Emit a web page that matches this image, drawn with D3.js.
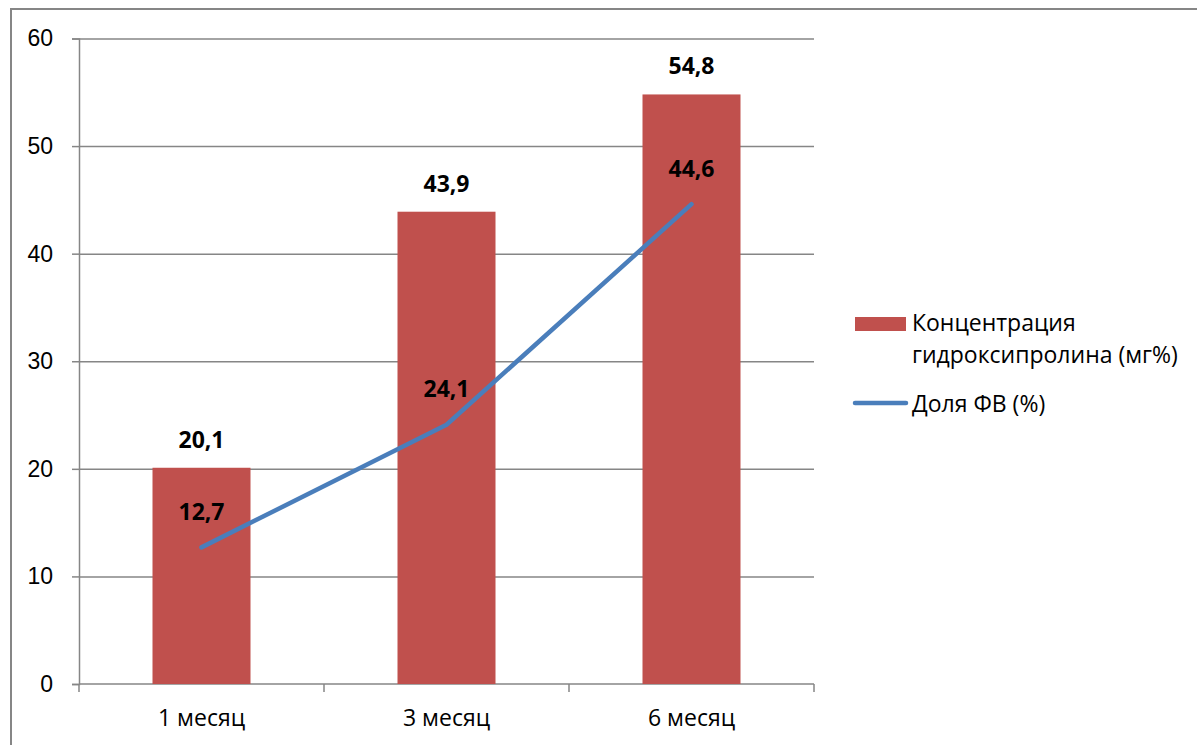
<!DOCTYPE html>
<html>
<head>
<meta charset="utf-8">
<script src="https://cdn.jsdelivr.net/npm/d3@7"></script>
<style>
  html, body { margin: 0; padding: 0; background: #fff; }
  svg { display: block; font-family: "Open Sans", "Noto Sans", sans-serif; }
</style>
</head>
<body>
<svg id="chart" width="1197" height="745"></svg>
<script>
// Data
const categories = ["1 месяц", "3 месяц", "6 месяц"];
const hydroxyproline = [20.1, 43.9, 54.8];   // Концентрация гидроксипролина (мг%)
const fvShare = [12.7, 24.1, 44.6];          // Доля ФВ (%)
const yTicks = [0, 10, 20, 30, 40, 50, 60];
const seriesNames = ["Концентрация", "гидроксипролина (мг%)", "Доля ФВ (%)"];

const svg = d3.select("#chart");
const plot = { left: 79, right: 814, top: 38.5, bottom: 684 };
const barColor = "#c0504d";
const lineColor = "#4a7ebb";
const axisColor = "#868686";
const textSize = 23;
const labelSize = 23;

// Outer chart frame
svg.append("rect")
  .attr("x", 11).attr("y", 9)
  .attr("width", 1300).attr("height", 900)
  .attr("fill", "none").attr("stroke", axisColor).attr("stroke-width", 2);

const x = d3.scaleBand().domain(categories)
  .range([plot.left, plot.right]).paddingInner(0.6).paddingOuter(0.3);
const xOuter = d3.scaleBand().domain(categories).range([plot.left, plot.right]);
const y = d3.scaleLinear().domain([0, 60]).range([plot.bottom, plot.top]);

// Gridlines + left axis
const yAxis = d3.axisLeft(y).tickValues(yTicks).tickSize(7).tickPadding(19)
  .tickFormat(d3.format("d"));
const gy = svg.append("g").attr("transform", `translate(${plot.left},0)`).call(yAxis);
gy.select(".domain").attr("stroke", axisColor).attr("stroke-width", 1.5);
gy.selectAll(".tick line").attr("stroke", axisColor).attr("stroke-width", 1.5);
gy.selectAll(".tick text").attr("font-size", textSize).attr("fill", "#000");
gy.selectAll(".tick").filter(d => d > 0).append("line")
  .attr("x1", 0).attr("x2", plot.right - plot.left)
  .attr("stroke", axisColor).attr("stroke-width", 1.5);

// Bottom axis with ticks on category boundaries
const gx = svg.append("g").attr("transform", `translate(0,${plot.bottom})`);
gx.append("line").attr("x1", plot.left).attr("x2", plot.right)
  .attr("stroke", axisColor).attr("stroke-width", 1.5);
const bounds = categories.map(c => xOuter(c)).concat([xOuter(categories[2]) + xOuter.bandwidth()]);
gx.selectAll("line.tk").data(bounds).join("line").attr("class", "tk")
  .attr("x1", d => d).attr("x2", d => d).attr("y1", 0).attr("y2", 8)
  .attr("stroke", axisColor).attr("stroke-width", 1.5);
gx.selectAll("text").data(categories).join("text")
  .attr("x", d => xOuter(d) + xOuter.bandwidth() / 2).attr("y", 42)
  .attr("text-anchor", "middle").attr("font-size", textSize).attr("fill", "#000")
  .text(d => d);

// Bars
svg.append("g").selectAll("rect").data(hydroxyproline).join("rect")
  .attr("x", (d, i) => x(categories[i]))
  .attr("y", d => y(d))
  .attr("width", x.bandwidth())
  .attr("height", d => y(0) - y(d))
  .attr("fill", barColor);

// Line
const cx = i => x(categories[i]) + x.bandwidth() / 2;
const line = d3.line().x((d, i) => cx(i)).y(d => y(d));
svg.append("path").datum(fvShare)
  .attr("d", line).attr("fill", "none")
  .attr("stroke", lineColor).attr("stroke-width", 4.5)
  .attr("stroke-linecap", "round").attr("stroke-linejoin", "round");

// Value labels
const fmt = v => v.toFixed(1).replace(".", ",");
svg.append("g").selectAll("text").data(hydroxyproline).join("text")
  .attr("x", (d, i) => cx(i)).attr("y", d => y(d) - 20)
  .attr("text-anchor", "middle").attr("font-size", labelSize).attr("font-weight", "bold")
  .text(fmt);
svg.append("g").selectAll("text").data(fvShare).join("text")
  .attr("x", (d, i) => cx(i)).attr("y", d => y(d) - 27.5)
  .attr("text-anchor", "middle").attr("font-size", labelSize).attr("font-weight", "bold")
  .text(fmt);

// Legend
const lg = svg.append("g");
lg.append("rect").attr("x", 855).attr("y", 317).attr("width", 51).attr("height", 14)
  .attr("fill", barColor);
lg.append("text").attr("x", 912).attr("y", 331).attr("font-size", textSize).text(seriesNames[0]);
lg.append("text").attr("x", 912).attr("y", 363).attr("font-size", textSize).text(seriesNames[1]);
lg.append("line").attr("x1", 855).attr("x2", 906).attr("y1", 403).attr("y2", 403)
  .attr("stroke", lineColor).attr("stroke-width", 4.5).attr("stroke-linecap", "round");
lg.append("text").attr("x", 912).attr("y", 412).attr("font-size", textSize).text(seriesNames[2]);
</script>
</body>
</html>
